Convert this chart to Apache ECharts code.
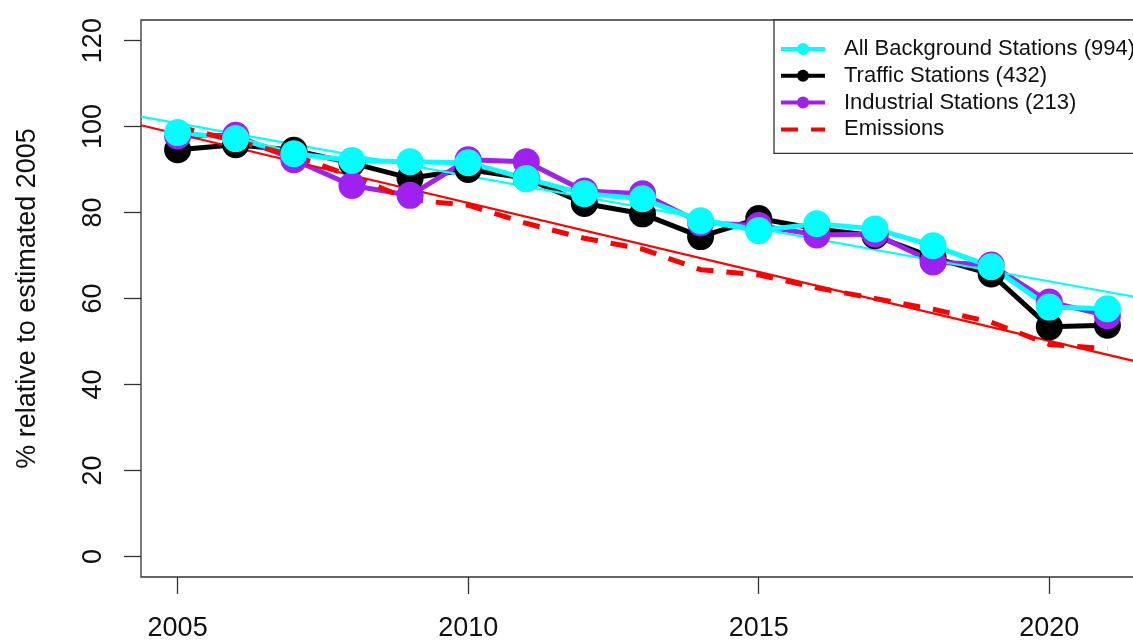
<!DOCTYPE html>
<html>
<head>
<meta charset="utf-8">
<script src="https://cdn.jsdelivr.net/npm/echarts@6/dist/echarts.min.js"></script>
<style>
  html, body { margin: 0; padding: 0; overflow: hidden; background: #fff; }
  #chart { width: 1150px; height: 642px; }
</style>
</head>
<body>
<div id="chart"></div>
<script>
// values (% relative to estimated 2005)
const years = [2005, 2006, 2007, 2008, 2009, 2010, 2011, 2012, 2013, 2014, 2015, 2016, 2017, 2018, 2019, 2020, 2021];
const background = [98.6, 97.2, 93.7, 92.1, 91.8, 91.6, 87.9, 84.4, 83.2, 78.1, 75.8, 77.4, 76.2, 72.3, 67.4, 58.0, 57.6];
const traffic = [94.6, 95.8, 94.5, 91.5, 88.0, 90.0, 88.0, 82.1, 79.7, 74.4, 78.6, 76.2, 74.6, 69.5, 65.7, 53.4, 53.8];
const industrial = [97.8, 98.0, 92.3, 86.3, 84.0, 92.3, 91.8, 85.0, 84.4, 77.6, 77.0, 74.8, 75.0, 68.5, 67.8, 59.2, 56.0];
const emissions = [100, 96.7, 93.2, 88.5, 83.0, 81.7, 77.5, 74.0, 71.5, 66.7, 65.5, 62.5, 60.0, 57.5, 54.5, 49.3, 48.3];

// fitted trend lines (abline), ends at the plot edges
const backgroundTrend = [[2004.37, 102.3], [2021.63, 60.0]];
const emissionsTrend = [[2004.37, 100.3], [2021.63, 44.9]];

const xTicks = [2005, 2010, 2015, 2020];
const yTicks = [0, 20, 40, 60, 80, 100, 120];
const legendNames = ['All Background Stations (994)', 'Traffic Stations (432)', 'Industrial Stations (213)', 'Emissions'];

const FONT = '"Liberation Sans", Arial, sans-serif';
const pairs = vals => years.map((y, i) => [y, vals[i]]);

const stationSeries = (name, vals, color) => ({
    name: name,
    type: 'line',
    data: pairs(vals),
    symbol: 'circle',
    symbolSize: 27,
    lineStyle: { color: color, width: 5 },
    itemStyle: { color: color },
    animation: false
});

const chart = echarts.init(document.getElementById('chart'), null, { renderer: 'canvas' });

chart.setOption({
    backgroundColor: '#fff',
    grid: {
        left: 141, right: 6, top: 20, bottom: 64,
        show: true, borderColor: '#333', borderWidth: 1.3, backgroundColor: 'transparent'
    },
    xAxis: {
        type: 'value',
        min: 2004.37,
        max: 2021.63,
        axisLine: { show: false, onZero: false },
        splitLine: { show: false },
        axisTick: { show: true, length: 17, customValues: xTicks, lineStyle: { color: '#333', width: 1.3 } },
        axisLabel: {
            customValues: xTicks, margin: 38, fontSize: 27, fontFamily: FONT, color: '#111',
            formatter: v => String(v)
        }
    },
    yAxis: {
        type: 'value',
        min: -4.8,
        max: 124.8,
        name: '% relative to estimated 2005',
        nameLocation: 'middle',
        nameRotate: 90,
        nameGap: 100,
        nameTextStyle: { fontSize: 27, fontFamily: FONT, color: '#111' },
        axisLine: { show: false, onZero: false },
        splitLine: { show: false },
        axisTick: { show: true, length: 17, customValues: yTicks, lineStyle: { color: '#333', width: 1.3 } },
        axisLabel: { customValues: yTicks, rotate: 90, margin: 34, fontSize: 27, fontFamily: FONT, color: '#111' }
    },
    legend: {
        left: 774,
        top: 20,
        orient: 'vertical',
        selectedMode: false,
        padding: [18, 10, 13, 5],
        itemWidth: 44,
        itemHeight: 15,
        itemGap: 4.8,
        backgroundColor: '#fff',
        borderColor: '#333',
        borderWidth: 1.3,
        textStyle: { fontSize: 22, lineHeight: 22, fontFamily: FONT, color: '#111', padding: [0, 0, 0, 14] },
        lineStyle: { width: 4 },
        data: [
            legendNames[0],
            legendNames[1],
            legendNames[2],
            { name: legendNames[3], itemStyle: { color: 'rgba(0,0,0,0)', borderWidth: 0 } }
        ]
    },
    series: [
        stationSeries(legendNames[1], traffic, '#000000'),
        stationSeries(legendNames[2], industrial, '#A020F0'),
        stationSeries(legendNames[0], background, '#00FFFF'),
        {
            name: legendNames[3],
            type: 'line',
            data: pairs(emissions),
            symbol: 'none',
            lineStyle: { color: '#FF0000', width: 5, type: [17, 13] },
            itemStyle: { color: '#FF0000' },
            animation: false
        },
        {
            name: 'Background trend',
            type: 'line',
            data: backgroundTrend,
            symbol: 'none',
            lineStyle: { color: '#00FFFF', width: 2.2 },
            animation: false
        },
        {
            name: 'Emissions trend',
            type: 'line',
            data: emissionsTrend,
            symbol: 'none',
            lineStyle: { color: '#FF0000', width: 2.2 },
            animation: false
        }
    ]
});
</script>
</body>
</html>
